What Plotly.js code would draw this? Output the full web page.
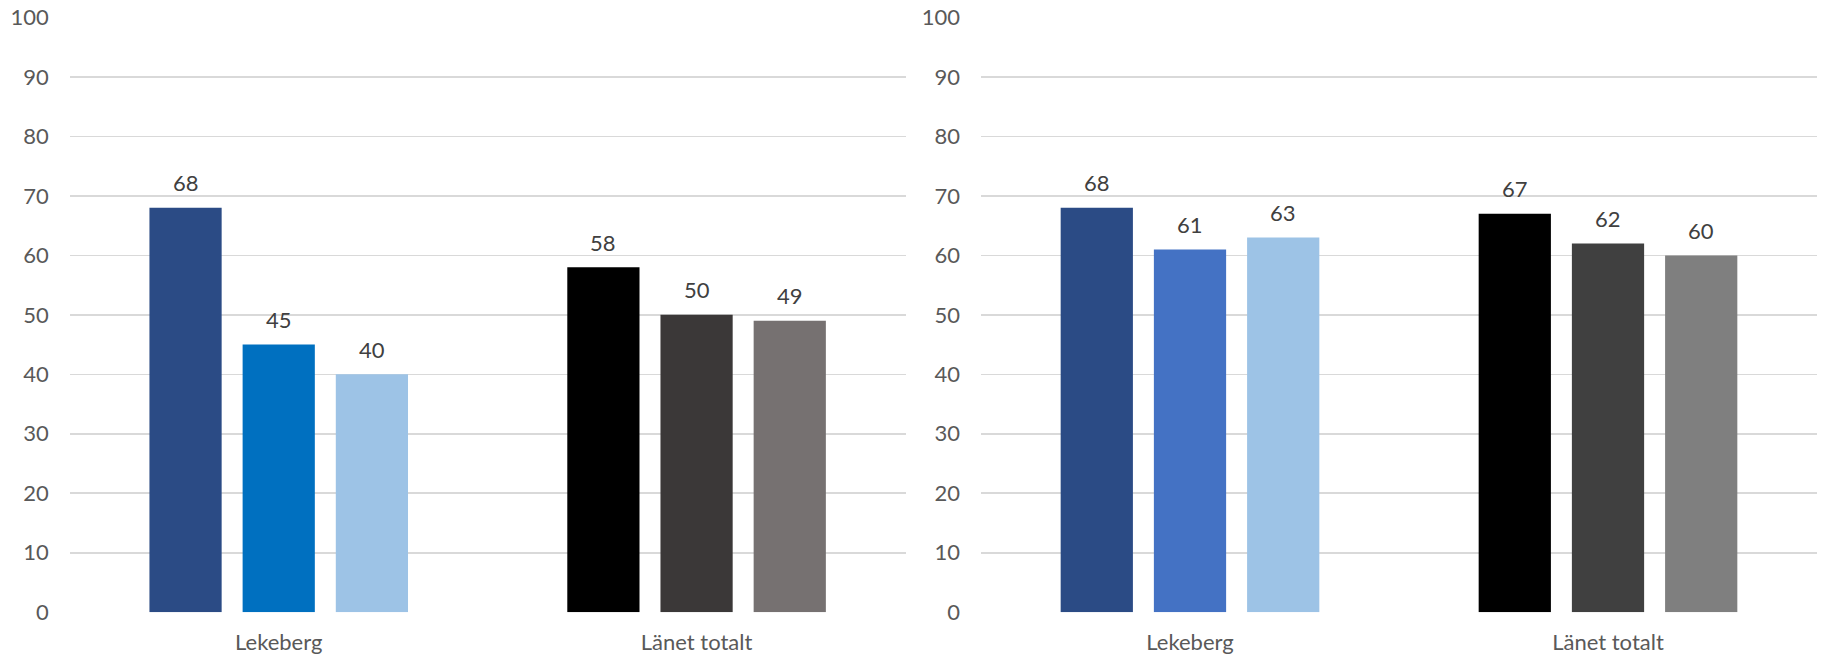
<!DOCTYPE html>
<html>
<head>
<meta charset="utf-8">
<script src="https://cdn.plot.ly/plotly-3.0.1.min.js"></script>
<style>html,body{margin:0;padding:0;background:#fff;}#chart{width:1825px;height:654px;}</style>
</head>
<body>
<div id="chart"></div>
<script>
const categories = ["Lekeberg", "Länet totalt"];
// Left chart: three series per category
const leftSeries1 = [68, 58];
const leftSeries2 = [45, 50];
const leftSeries3 = [40, 49];
// Right chart
const rightSeries1 = [68, 67];
const rightSeries2 = [61, 62];
const rightSeries3 = [63, 60];
const yTicks = [0, 10, 20, 30, 40, 50, 60, 70, 80, 90, 100];

const leftColors = [["#2B4B85", "#000000"], ["#0070C0", "#3B3838"], ["#9DC3E6", "#767171"]];
const rightColors = [["#2B4B85", "#000000"], ["#4472C4", "#404040"], ["#9DC3E6", "#7F7F7F"]];

const BARGAP = 0.331, GROUPGAP = 0.225, NS = 3;
const FONT = "Lato, 'Open Sans', sans-serif";

const traces = [];
const annotations = [];
function addChart(seriesList, colors, xa, ya) {
  seriesList.forEach((vals, j) => {
    traces.push({
      type: "bar", x: categories, y: vals, xaxis: xa, yaxis: ya,
      marker: {color: colors[j]}, showlegend: false, hoverinfo: "none"
    });
    const slot = (1 - BARGAP) / NS;
    vals.forEach((v, i) => {
      annotations.push({
        xref: xa, yref: ya, x: i + (j - (NS - 1) / 2) * slot, y: v,
        text: String(v), showarrow: false, yanchor: "middle", yshift: 25,
        font: {family: FONT, size: 22, color: "#404040"}
      });
    });
  });
}
addChart([leftSeries1, leftSeries2, leftSeries3], leftColors, "x", "y");
addChart([rightSeries1, rightSeries2, rightSeries3], rightColors, "x2", "y2");

const yDomain = [41.8 / 654, 636.5 / 654];
function yAxis(anchor) {
  return {
    domain: yDomain, range: [0, 100], tickvals: yTicks, anchor: anchor,
    showgrid: true, gridcolor: "#D9D9D9", gridwidth: 1.6, zeroline: false,
    showline: false, ticks: "", ticklabelstandoff: 20,
    tickfont: {family: FONT, size: 22, color: "#595959"}
  };
}
function xAxis(domain, anchor) {
  return {
    domain: domain, anchor: anchor, type: "category", showgrid: false, zeroline: false,
    showline: false, ticks: "", ticklabelstandoff: 15,
    tickfont: {family: FONT, size: 22, color: "#595959"}
  };
}

const layout = {
  width: 1825, height: 654,
  margin: {l: 0, r: 0, t: 0, b: 0},
  paper_bgcolor: "#ffffff", plot_bgcolor: "#ffffff",
  barmode: "group", bargap: BARGAP, bargroupgap: GROUPGAP,
  xaxis: xAxis([69.8 / 1825, 905.5 / 1825], "y"),
  yaxis: yAxis("x"),
  xaxis2: xAxis([981 / 1825, 1817 / 1825], "y2"),
  yaxis2: yAxis("x2"),
  annotations: annotations,
  font: {family: FONT}
};

Plotly.newPlot("chart", traces, layout, {displayModeBar: false, staticPlot: true});
</script>
</body>
</html>
